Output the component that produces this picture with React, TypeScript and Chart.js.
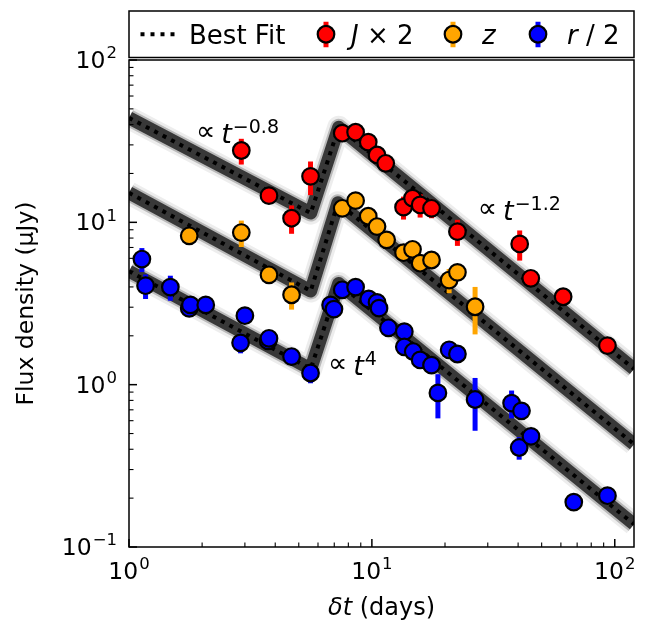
import { useEffect, useRef } from 'react';
import { Chart, registerables } from 'chart.js';
Chart.register(...registerables);

// ---------- data ----------
const jDays = [2.90, 3.77, 4.67, 5.59, 7.55, 8.57, 9.66, 10.5, 11.4, 13.5, 14.7, 15.8, 17.6, 22.5, 40.6, 45.1, 61.3, 93.3];
const jFlux = [27.7, 14.6, 10.6, 19.2, 35.4, 35.9, 31.2, 26.0, 23.1, 12.4, 14.1, 12.8, 12.2, 8.76, 7.36, 4.52, 3.48, 1.74];
const jErr = [5.0, 1.0, 2.1, 4.5, 1.5, 1.5, 1.3, 1.1, 1.0, 2.0, 1.2, 2.1, 1.6, 1.6, 1.55, 0.3, 0.2, 0.15];

const zDays = [1.77, 2.90, 3.77, 4.67, 7.55, 8.57, 9.66, 10.5, 11.5, 13.5, 14.7, 15.8, 17.6, 20.8, 22.5, 26.6];
const zFlux = [8.26, 8.65, 4.75, 3.58, 12.2, 13.6, 10.9, 9.42, 7.8, 6.5, 6.82, 5.6, 5.86, 4.41, 4.92, 3.02];
const zErr = [0.5, 1.6, 0.3, 0.68, 0.6, 0.6, 0.5, 0.5, 0.4, 0.4, 0.4, 0.35, 0.35, 0.75, 0.4, 0.98];

const rDays = [1.13, 1.17, 1.48, 1.77, 1.79, 2.07, 2.88, 3.0, 3.74, 3.77, 4.67, 5.59, 6.76, 6.98, 7.55, 8.57, 9.7, 10.5, 10.7, 11.7, 13.6, 13.6, 14.8, 15.8, 17.6, 18.7, 20.8, 22.5, 26.6, 37.6, 40.4, 41.3, 45.2, 67.8, 93.3];
const rFlux = [5.94, 4.07, 3.99, 2.95, 3.1, 3.1, 1.81, 2.66, 1.86, 1.93, 1.49, 1.18, 3.1, 2.92, 3.84, 3.99, 3.37, 3.21, 2.96, 2.24, 2.12, 1.71, 1.60, 1.42, 1.32, 0.89, 1.64, 1.545, 0.81, 0.77, 0.41, 0.69, 0.48, 0.189, 0.207];
const rErr = [1.0, 0.7, 0.7, 0.2, 0.2, 0.2, 0.25, 0.2, 0.15, 0.15, 0.12, 0.16, 0.2, 0.2, 0.2, 0.2, 0.2, 0.2, 0.2, 0.15, 0.15, 0.12, 0.12, 0.1, 0.1, 0.27, 0.1, 0.1, 0.29, 0.15, 0.065, 0.05, 0.04, 0.012, 0.012];

const fitJDays = [1, 5.6, 7.3, 120];
const fitJFlux = [44, 11.4, 38.5, 1.25];
const fitZDays = [1, 5.6, 7.25, 120];
const fitZFlux = [15.2, 3.78, 13.2, 0.43];
const fitRDays = [1, 5.6, 7.3, 120];
const fitRFlux = [5.0, 1.25, 4.2, 0.138];

const xMajorTicks = [1, 10, 100];
const xMajorExp = ['0', '1', '2'];
const yMajorTicks = [0.1, 1, 10, 100];
const yMajorExp = ['\u22121', '0', '1', '2'];
const minorMult = [2, 3, 4, 5, 6, 7, 8, 9];

const annDays = [1.887, 27.3, 6.59];
const annFlux = [31.0, 10.34, 1.147];
const annExp = ['\u22120.8', '\u22121.2', '4'];

const X_MIN = 1, X_MAX = 120, Y_MIN = 0.1, Y_MAX = 100;

const FONT = "'DejaVu Sans'";
const RED = '#ff0000', ORANGE = '#ffa500', BLUE = '#0000ff';

const pts = (xs: number[], ys: number[]) => xs.map((x, i) => ({ x, y: ys[i] }));

type Part = { t: string; font: string; gap?: number; dy?: number };
function measureParts(ctx: CanvasRenderingContext2D, parts: Part[]) {
  let w = 0;
  for (const p of parts) { ctx.font = p.font; w += (p.gap || 0) + ctx.measureText(p.t).width; }
  return w;
}
function drawParts(ctx: CanvasRenderingContext2D, parts: Part[], x: number, y: number) {
  let cx = x;
  for (const p of parts) {
    ctx.font = p.font;
    cx += p.gap || 0;
    ctx.fillText(p.t, cx, y + (p.dy || 0));
    cx += ctx.measureText(p.t).width;
  }
}

const errorBarPlugin = {
  id: 'errbars',
  beforeDatasetDraw(chart: any, args: any) {
    const ds = chart.data.datasets[args.index];
    if (!ds.errs) return;
    const { ctx, chartArea: ca, scales } = chart;
    const xs = scales.x, ys = scales.y;
    ctx.save();
    ctx.beginPath();
    ctx.rect(ca.left, ca.top, ca.right - ca.left, ca.bottom - ca.top);
    ctx.clip();
    ctx.strokeStyle = ds.backgroundColor;
    ctx.lineWidth = 5;
    ctx.lineCap = 'butt';
    ds.data.forEach((p: any, i: number) => {
      const e = ds.errs[i];
      const px = xs.getPixelForValue(p.x);
      const y1 = ys.getPixelForValue(p.y + e);
      const y2 = ys.getPixelForValue(Math.max(p.y - e, 1e-4));
      ctx.beginPath();
      ctx.moveTo(px, y1);
      ctx.lineTo(px, y2);
      ctx.stroke();
    });
    ctx.restore();
  },
};

const decorPlugin = {
  id: 'decor',
  afterDraw(chart: any) {
    const { ctx, chartArea: ca, scales } = chart;
    const xs = scales.x, ys = scales.y;
    ctx.save();
    // spines
    ctx.strokeStyle = '#000';
    ctx.lineWidth = 1.5;
    ctx.strokeRect(ca.left, ca.top, ca.right - ca.left, ca.bottom - ca.top);

    // ticks (inward)
    const majLen = 8, minLen = 4.5;
    ctx.lineCap = 'butt';
    xMajorTicks.forEach((v) => {
      const px = xs.getPixelForValue(v);
      ctx.lineWidth = 1.5;
      ctx.beginPath(); ctx.moveTo(px, ca.bottom); ctx.lineTo(px, ca.bottom - majLen); ctx.stroke();
      minorMult.forEach((m) => {
        const mv = v * m;
        if (mv > X_MAX) return;
        const mp = xs.getPixelForValue(mv);
        ctx.lineWidth = 1.1;
        ctx.beginPath(); ctx.moveTo(mp, ca.bottom); ctx.lineTo(mp, ca.bottom - minLen); ctx.stroke();
      });
    });
    yMajorTicks.forEach((v) => {
      const py = ys.getPixelForValue(v);
      ctx.lineWidth = 1.5;
      ctx.beginPath(); ctx.moveTo(ca.left, py); ctx.lineTo(ca.left + majLen, py); ctx.stroke();
      minorMult.forEach((m) => {
        const mv = v * m;
        if (mv > Y_MAX) return;
        const mp = ys.getPixelForValue(mv);
        ctx.lineWidth = 1.1;
        ctx.beginPath(); ctx.moveTo(ca.left, mp); ctx.lineTo(ca.left + minLen, mp); ctx.stroke();
      });
    });

    // tick labels
    ctx.fillStyle = '#000';
    ctx.textBaseline = 'alphabetic';
    ctx.textAlign = 'left';
    const big = `23.5px ${FONT}`, sup = `16.5px ${FONT}`;
    yMajorTicks.forEach((v, i) => {
      const py = ys.getPixelForValue(v);
      const parts: Part[] = [{ t: '10', font: big }, { t: yMajorExp[i], font: sup, gap: 1, dy: -9.7 }];
      const w = measureParts(ctx, parts);
      drawParts(ctx, parts, ca.left - 12 - w, py + 8);
    });
    xMajorTicks.forEach((v, i) => {
      const px = xs.getPixelForValue(v);
      const parts: Part[] = [{ t: '10', font: big }, { t: xMajorExp[i], font: sup, gap: 1, dy: -9.7 }];
      const w = measureParts(ctx, parts);
      drawParts(ctx, parts, px - w / 2, ca.bottom + 32);
    });

    // axis titles
    const xt: Part[] = [{ t: '\u03b4t', font: `italic 24px ${FONT}` }, { t: ' (days)', font: `24px ${FONT}` }];
    const xw = measureParts(ctx, xt);
    drawParts(ctx, xt, (ca.left + ca.right) / 2 - xw / 2, 615);

    ctx.save();
    ctx.translate(27, (ca.top + ca.bottom) / 2);
    ctx.rotate(-Math.PI / 2);
    ctx.font = `23.5px ${FONT}`;
    ctx.textAlign = 'center';
    ctx.textBaseline = 'middle';
    ctx.fillText('Flux density (\u03bcJy)', 0, 0);
    ctx.restore();

    // annotations
    ctx.textAlign = 'left';
    ctx.textBaseline = 'alphabetic';
    annDays.forEach((d, i) => {
      const px = xs.getPixelForValue(d);
      const py = ys.getPixelForValue(annFlux[i]);
      const parts: Part[] = [
        { t: '\u221d', font: `27px ${FONT}`, dy: -3 },
        { t: 't', font: `italic 27px ${FONT}`, gap: 6 },
        { t: annExp[i], font: `19px ${FONT}`, gap: 1, dy: -9.5 },
      ];
      drawParts(ctx, parts, px, py);
    });

    // legend
    const lt = 11, lb = ca.top - 2.5;
    const lc = (lt + lb) / 2;
    ctx.fillStyle = '#fff';
    ctx.fillRect(ca.left, lt, ca.right - ca.left, lb - lt);
    ctx.strokeStyle = '#000';
    ctx.lineWidth = 1.5;
    ctx.strokeRect(ca.left, lt, ca.right - ca.left, lb - lt);
    // best fit sample
    ctx.setLineDash([4, 6]);
    ctx.lineWidth = 4;
    ctx.beginPath(); ctx.moveTo(ca.left + 11.5, lc); ctx.lineTo(ca.left + 50, lc); ctx.stroke();
    ctx.setLineDash([]);
    ctx.fillStyle = '#000';
    const lf = `26px ${FONT}`, lfi = `italic 26px ${FONT}`;
    drawParts(ctx, [{ t: 'Best Fit', font: lf }], ca.left + 60, lc + 9.5);
    const marker = (x: number, col: string) => {
      ctx.strokeStyle = col; ctx.lineWidth = 5;
      ctx.beginPath(); ctx.moveTo(x, lc - 12.5); ctx.lineTo(x, lc + 13); ctx.stroke();
      ctx.beginPath(); ctx.arc(x, lc, 8.3, 0, Math.PI * 2);
      ctx.fillStyle = col; ctx.fill();
      ctx.strokeStyle = '#000'; ctx.lineWidth = 2.2; ctx.stroke();
      ctx.fillStyle = '#000';
    };
    marker(ca.left + 197, RED);
    drawParts(ctx, [{ t: 'J', font: lfi }, { t: ' \u00d7 2', font: lf }], ca.left + 222, lc + 9.5);
    marker(ca.left + 324, ORANGE);
    drawParts(ctx, [{ t: 'z', font: lfi }], ca.left + 353, lc + 9.5);
    marker(ca.left + 409, BLUE);
    drawParts(ctx, [{ t: 'r', font: lfi }, { t: ' / 2', font: lf }], ca.left + 438, lc + 9.5);

    ctx.restore();
  },
};

export default function App() {
  const ref = useRef<HTMLCanvasElement | null>(null);
  useEffect(() => {
    document.body.style.margin = '0';
    document.body.style.overflow = 'hidden';
    const canvas = ref.current!;
    const scatter = (data: any[], errs: number[], col: string) => ({
      type: 'scatter',
      data,
      errs,
      backgroundColor: col,
      borderColor: '#000',
      borderWidth: 2.2,
      pointRadius: 8.3,
      pointHoverRadius: 8.3,
      showLine: false,
    });
    const fitLine = (data: any[], width: number, color: string, dash: number[] = []) => ({
      type: 'scatter',
      data,
      showLine: true,
      pointRadius: 0,
      borderWidth: width,
      borderColor: color,
      borderDash: dash,
      borderCapStyle: 'butt',
      borderJoinStyle: 'round',
      tension: 0,
      clip: 0,
    });
    const fits = [pts(fitJDays, fitJFlux), pts(fitZDays, fitZFlux), pts(fitRDays, fitRFlux)];
    const datasets: any[] = [
      scatter(pts(rDays, rFlux), rErr, BLUE),
      scatter(pts(zDays, zFlux), zErr, ORANGE),
      scatter(pts(jDays, jFlux), jErr, RED),
      ...fits.map((f) => fitLine(f, 4, '#000', [4, 5.5])),
      ...fits.map((f) => fitLine(f, 13, 'rgba(45,45,45,0.92)')),
      ...fits.map((f) => fitLine(f, 17, 'rgba(0,0,0,0.22)')),
      ...fits.map((f) => fitLine(f, 23, 'rgba(0,0,0,0.07)')),
    ];
    const chart = new Chart(canvas, {
      type: 'scatter',
      data: { datasets },
      options: {
        animation: false,
        responsive: false,
        devicePixelRatio: 1,
        events: [],
        layout: { padding: { top: 60, right: 13, left: 0, bottom: 0 } },
        plugins: { legend: { display: false }, tooltip: { enabled: false } },
        scales: {
          x: {
            type: 'logarithmic', min: X_MIN, max: X_MAX,
            ticks: { display: false }, grid: { display: false, drawTicks: false }, border: { display: false },
            afterFit: (s: any) => { s.height = 80; },
          },
          y: {
            type: 'logarithmic', min: Y_MIN, max: Y_MAX,
            ticks: { display: false }, grid: { display: false, drawTicks: false }, border: { display: false },
            afterFit: (s: any) => { s.width = 129; },
          },
        },
      } as any,
      plugins: [errorBarPlugin, decorPlugin],
    } as any);
    return () => chart.destroy();
  }, []);
  return <canvas ref={ref} width={647} height={627} style={{ display: 'block' }} />;
}
